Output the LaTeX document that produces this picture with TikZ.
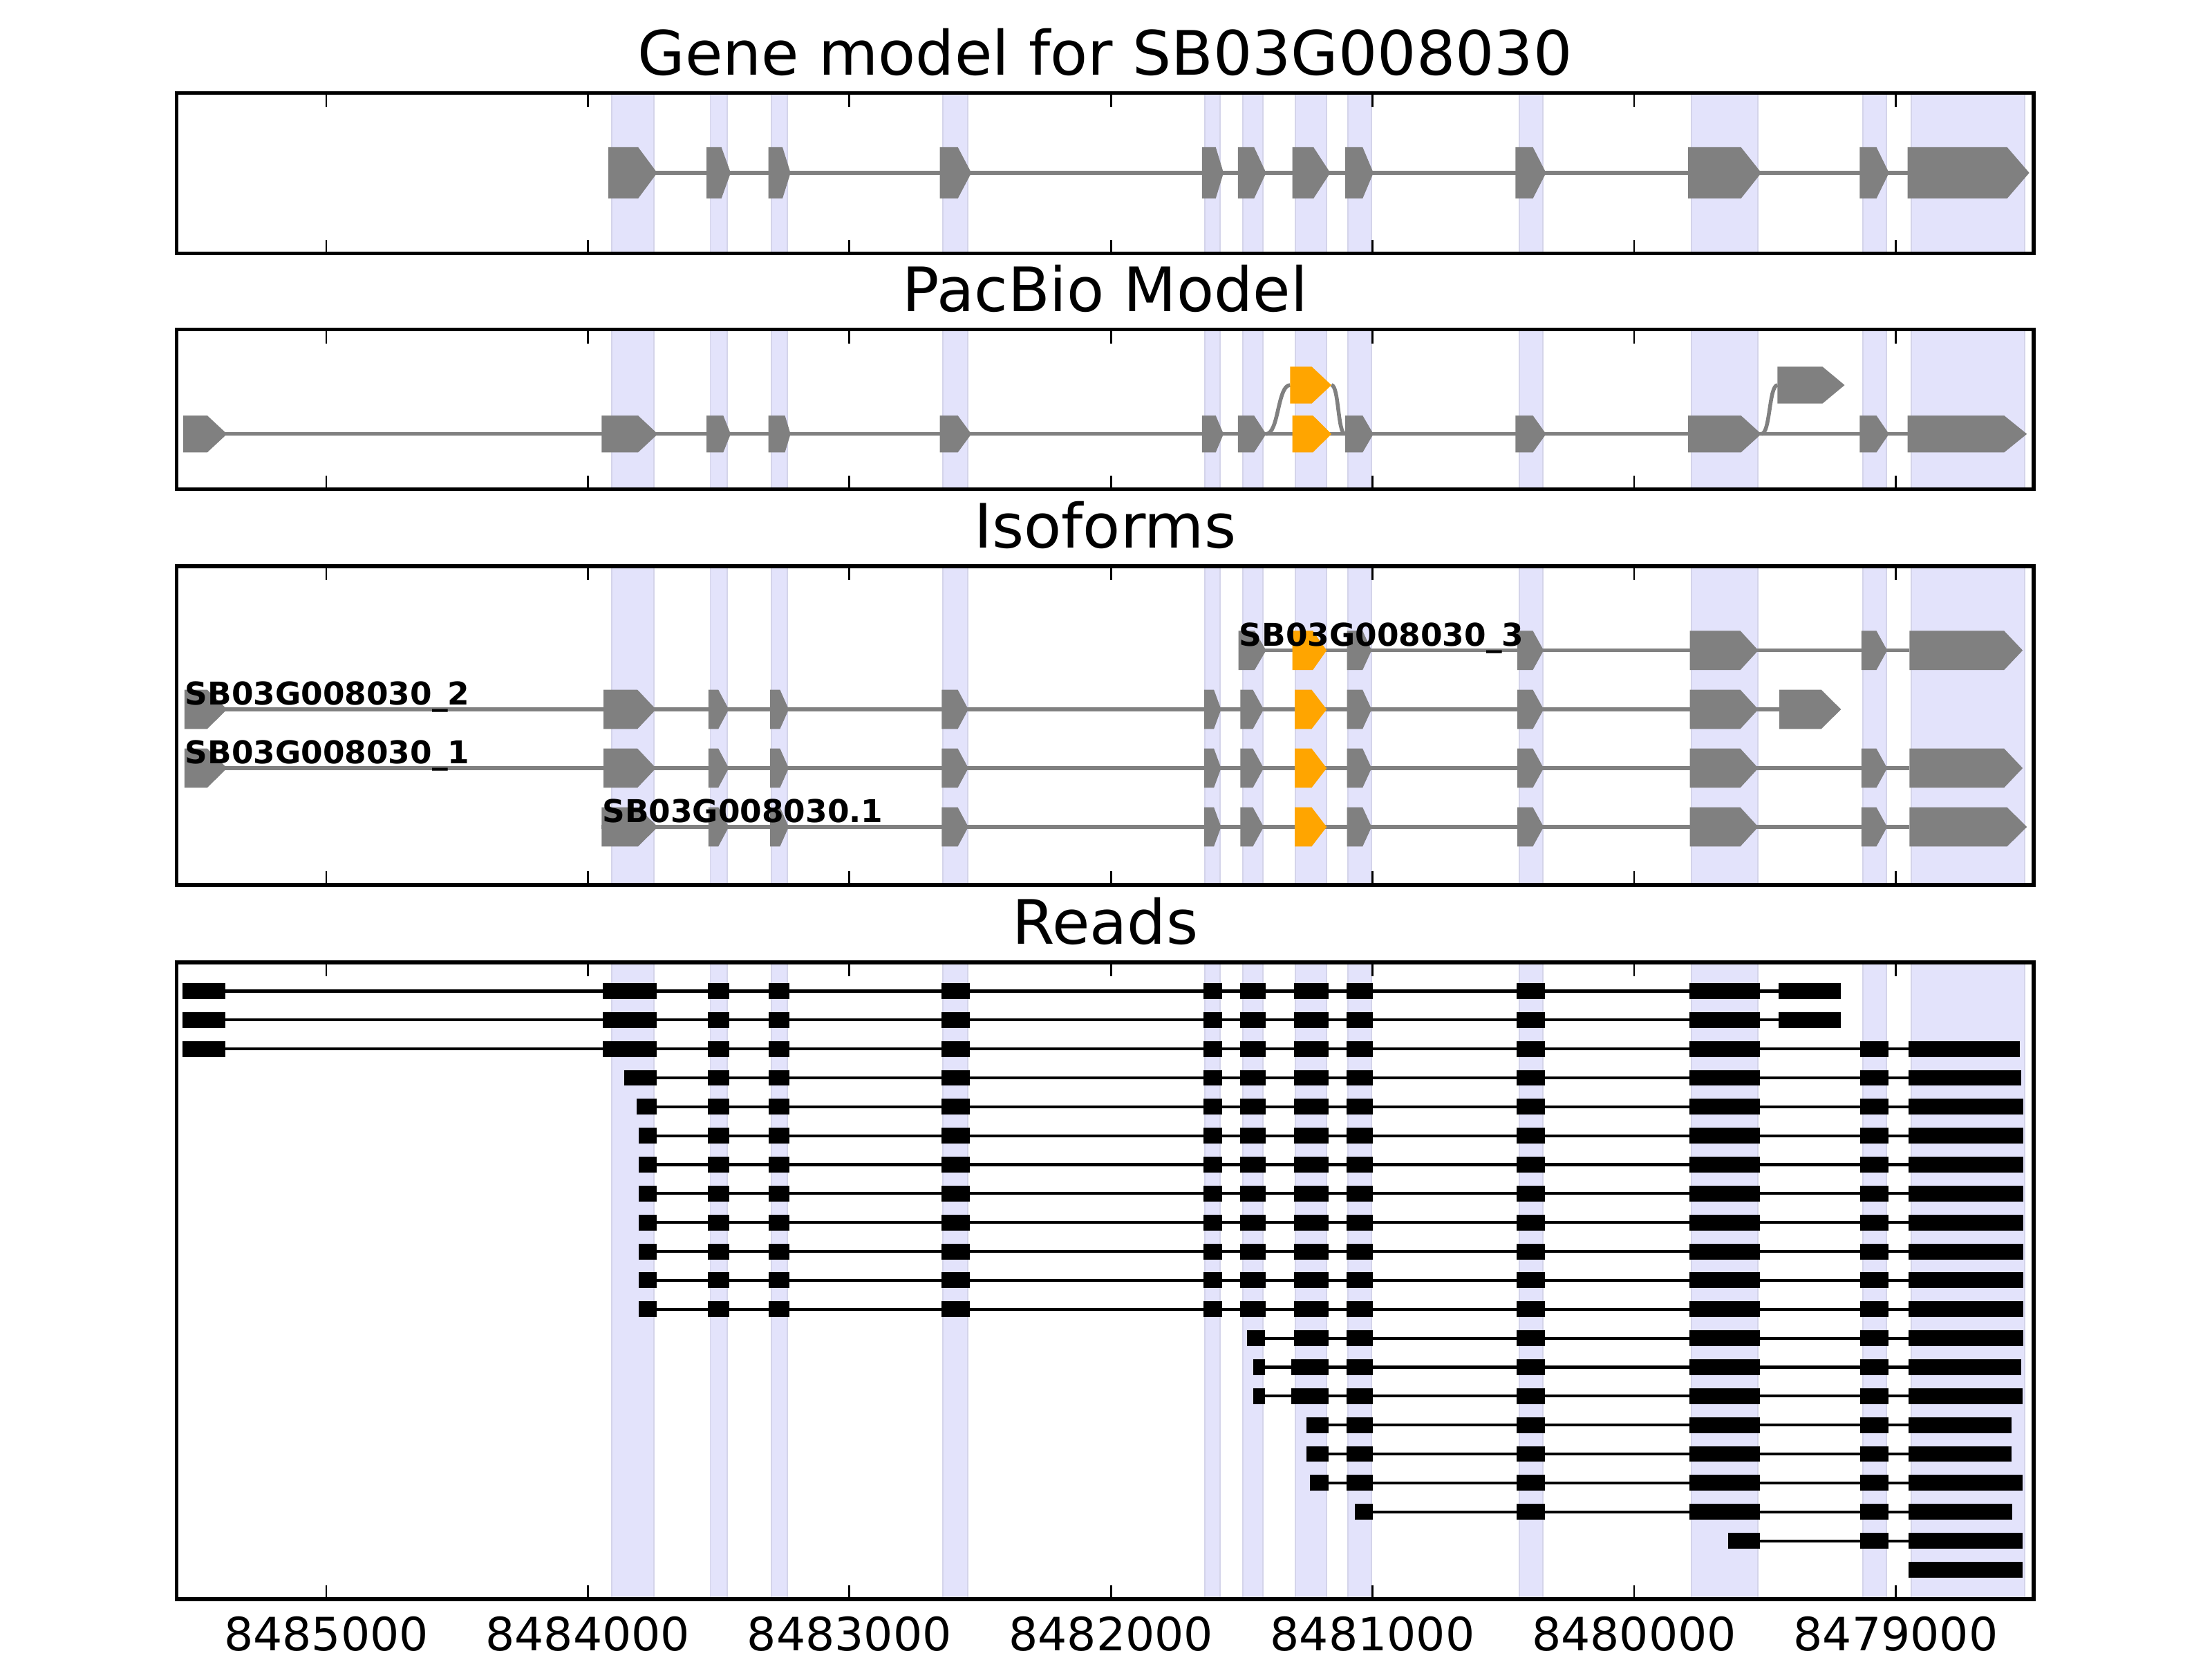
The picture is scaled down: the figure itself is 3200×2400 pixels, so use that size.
\documentclass[tikz,border=0pt]{standalone}
\usepackage{fontspec}
\setmainfont{DejaVu Sans}
\definecolor{exgray}{HTML}{808080}
\definecolor{exorange}{HTML}{FFA500}
\definecolor{bandfill}{RGB}{227,227,251}
\definecolor{bandedge}{RGB}{212,212,234}
% [colour]{y centre}{half height}{x start}{x end of body}{x tip}
\newcommand\gexon[6][exgray]{\fill[#1] (#4,#2-#3) -- (#5,#2-#3) -- (#6,#2) -- (#5,#2+#3) -- (#4,#2+#3) -- cycle;}
% {y}{x start}{x end}{blocks}
\newcommand\readrow[4]{\draw[rline] (#2,#1) -- (#3,#1);\foreach \a/\b in {#4}{\fill[black] (\a,#1-11.45) rectangle (\b,#1+11.45);}}
\newcommand\bandsin[2]{\foreach \a/\b in {884.6/946.3,1027.5/1051.6,1115.9/1139.1,1364.1/1399.9,1743.1/1764.8,1797.7/1827.2,1874.1/1919.2,1950.4/1984.2,2197.6/2232.3,2447.4/2542.8,2694.5/2729.2,2764.8/2928.7}{\filldraw[fill=bandfill,draw=bandedge,line width=0.35pt] (\a,#1) rectangle (\b,#2);}}
\newcommand\axbox[2]{\foreach \t in {472,850.4,1228.8,1607.2,1985.6,2364,2742.4}{\draw[line width=0.5pt] (\t,#1) -- (\t,#1+20) (\t,#2) -- (\t,#2-20);}\draw[line width=1pt] (255.5,#1) rectangle (2942,#2);}
\begin{document}
\begin{tikzpicture}[x=0.180675pt,y=-0.180675pt,
  ttl/.style={font=\fontsize{16}{19}\selectfont, inner sep=0, anchor=base},
  tickl/.style={font=\fontsize{12}{14}\selectfont, inner sep=0, anchor=base},
  lbl/.style={font=\fontsize{8.2}{10}\selectfont\bfseries, inner sep=0, anchor=base west},
  gline/.style={draw=exgray, line width=1pt},
  rline/.style={draw=black, line width=0.75pt}]
\useasboundingbox (0,0) rectangle (3200,2400);
\fill[white] (0,0) rectangle (3200,2400);

% ---------------- Panel 1: gene model ----------------
\node[ttl] (t1) at (1598.7,108.3) {Gene model for SB03G008030};
\bandsin{134.7}{366.5}
\draw[gline] (880.2,250) -- (2759.6,250);
\foreach \p/\q/\r in {880.2/923.1/950.7,1022.1/1043.6/1057,1111.5/1132/1143.6,1359.6/1385.6/1405.2,1738.8/1758.7/1770,1790.8/1814.2/1831.6,1869.7/1900.1/1924.4,1946/1971.2/1986.8,2192.4/2217.5/2236.6,2442.1/2518.5/2548,2690.2/2714.5/2732.7,2759.6/2903.5/2935.6}{\gexon{250}{37.2}{\p}{\q}{\r}}
\axbox{134.7}{366.5}

% ---------------- Panel 2: PacBio model ----------------
\node[ttl] (t2) at (1598.7,450.3) {PacBio Model};
\bandsin{476.7}{707.7}
\draw[gline] (265,627.7) -- (2759.6,627.7);
\draw[gline] (1831.6,627.7) .. controls (1850,627.7) and (1848,557) .. (1866.3,557);
\draw[gline] (1926.1,557) .. controls (1937,557) and (1935,627.7) .. (1946,627.7);
\draw[gline] (2548,627.7) .. controls (2561,627.7) and (2559,557) .. (2571.4,557);
\foreach \p/\q/\r in {265/299.8/328.4,870.4/923/951.6,1022.1/1046.3/1057,1111.5/1135.5/1143.6,1359.6/1385.6/1405.2,1738.8/1758.7/1770,1790.8/1814.2/1831.6,1946/1971.2/1986.8,2192.4/2217.5/2236.6,2442.1/2518.5/2548,2690.2/2714.5/2732.7,2759.6/2899.2/2932.2}{\gexon{627.7}{26.7}{\p}{\q}{\r}}
\gexon[exorange]{627.7}{26.7}{1869.7}{1899.2}{1926.1}
\gexon[exorange]{557}{26.7}{1866.3}{1897.5}{1926.1}
\gexon{557}{26.7}{2571.4}{2636.4}{2668.5}
\axbox{476.7}{707.7}

% ---------------- Panel 3: isoforms ----------------
\node[ttl] (t3) at (1598.7,792.6) {Isoforms};
\bandsin{819}{1280}
% row 1
\draw[gline] (1791.7,940.7) -- (2762.2,940.7);
\foreach \p/\q/\r in {1791.7/1815/1831.6,1948.7/1971.2/1984.2,2195/2217.5/2233.1,2444.7/2517.6/2543.6,2692.8/2714.5/2730.1,2762.2/2899.2/2926.1}{\gexon{940.7}{28.3}{\p}{\q}{\r}}
\gexon[exorange]{940.7}{28.3}{1869.7}{1899.2}{1919.2}
% row 2
\draw[gline] (266.8,1026) -- (2574,1026);
\foreach \p/\q/\r in {266.8/299.8/328.4,873/922.2/949,1024.9/1039.2/1054.3,1114.2/1128.4/1141,1362.4/1385.6/1400.8,1742.2/1756.1/1766.5,1794.3/1812.5/1828.1,1948.7/1971.2/1984.2,2195/2217.5/2233.1,2444.7/2517.6/2543.6,2574/2634.7/2663.3}{\gexon{1026}{28.3}{\p}{\q}{\r}}
\gexon[exorange]{1026}{28.3}{1873.2}{1897.5}{1919.2}
% row 3
\draw[gline] (266.8,1111) -- (2762.2,1111);
\foreach \p/\q/\r in {266.8/299.8/328.4,873/922.2/949,1024.9/1039.2/1054.3,1114.2/1128.4/1141,1362.4/1385.6/1400.8,1742.2/1756.1/1766.5,1794.3/1812.5/1828.1,1948.7/1971.2/1984.2,2195/2217.5/2233.1,2444.7/2517.6/2543.6,2692.8/2714.5/2730.1,2762.2/2899.2/2926.1}{\gexon{1111}{28.3}{\p}{\q}{\r}}
\gexon[exorange]{1111}{28.3}{1873.2}{1897.5}{1919.2}
% row 4
\draw[gline] (870.4,1196) -- (2762.2,1196);
\foreach \p/\q/\r in {870.4/923/951.6,1024.9/1039.2/1054.3,1114.2/1128.4/1141,1362.4/1385.6/1400.8,1742.2/1756.1/1766.5,1794.3/1812.5/1828.1,1948.7/1971.2/1984.2,2195/2217.5/2233.1,2444.7/2517.6/2543.6,2692.8/2714.5/2730.1,2762.2/2903.5/2932.2}{\gexon{1196}{28.3}{\p}{\q}{\r}}
\gexon[exorange]{1196}{28.3}{1873.2}{1897.5}{1919.2}
\node[lbl] (iso3) at (1791.7,934.2) {SB03G008030\_3};
\node[lbl] (iso2) at (266.8,1019.5) {SB03G008030\_2};
\node[lbl] (iso1) at (266.8,1104.5) {SB03G008030\_1};
\node[lbl] (isop) at (870.4,1189.5) {SB03G008030.1};
\axbox{819}{1280}

% ---------------- Panel 4: reads ----------------
\node[ttl] (t4) at (1598.7,1365.6) {Reads};
\bandsin{1392}{2313}
\readrow{1433.4}{264.1}{2663.3}{264.1/325.7,872.2/949.9,1024/1055.2,1112.4/1141.8,1362.4/1402.6,1741.4/1768.3,1794.3/1830.7,1872.3/1921.8,1947.8/1986,2194.1/2234.9,2443.9/2546.2,2573.1/2663.3}
\readrow{1475.25}{264.1}{2663.3}{264.1/325.7,872.2/949.9,1024/1055.2,1112.4/1141.8,1362.4/1402.6,1741.4/1768.3,1794.3/1830.7,1872.3/1921.8,1947.8/1986,2194.1/2234.9,2443.9/2546.2,2573.1/2663.3}
\readrow{1517.1}{264.1}{2921.7}{264.1/325.7,872.2/949.9,1024/1055.2,1112.4/1141.8,1362.4/1402.6,1741.4/1768.3,1794.3/1830.7,1872.3/1921.8,1947.8/1986,2194.1/2234.9,2443.9/2546.2,2691/2731.8,2761.3/2921.7}
\readrow{1558.95}{903.4}{2924.3}{903.4/949.9,1024/1055.2,1112.4/1141.8,1362.4/1402.6,1741.4/1768.3,1794.3/1830.7,1872.3/1921.8,1947.8/1986,2194.1/2234.9,2443.9/2546.2,2691/2731.8,2761.3/2924.3}
\readrow{1600.8}{921.3}{2927}{921.3/949.9,1024/1055.2,1112.4/1141.8,1362.4/1402.6,1741.4/1768.3,1794.3/1830.7,1872.3/1921.8,1947.8/1986,2194.1/2234.9,2443.9/2546.2,2691/2731.8,2761.3/2927}
\foreach \yy in {1642.65,1684.5,1726.35,1768.2,1810.05,1851.9,1893.75}{%
\readrow{\yy}{924}{2927}{924/949.9,1024/1055.2,1112.4/1141.8,1362.4/1402.6,1741.4/1768.3,1794.3/1830.7,1872.3/1921.8,1947.8/1986,2194.1/2234.9,2443.9/2546.2,2691/2731.8,2761.3/2927}}
\readrow{1935.6}{1803.8}{2927}{1803.8/1829.8,1872.3/1921.8,1947.8/1986,2194.1/2234.9,2443.9/2546.2,2691/2731.8,2761.3/2927}
\readrow{1977.45}{1813.4}{2924}{1813.4/1829.8,1868/1921.8,1947.8/1986,2194.1/2234.9,2443.9/2546.2,2691/2731.8,2761.3/2924}
\readrow{2019.3}{1813.4}{2926}{1813.4/1829.8,1868/1921.8,1947.8/1986,2194.1/2234.9,2443.9/2546.2,2691/2731.8,2761.3/2926}
\readrow{2061.15}{1889.7}{2909.6}{1889.7/1921.8,1947.8/1986,2194.1/2234.9,2443.9/2546.2,2691/2731.8,2761.3/2909.6}
\readrow{2103}{1889.7}{2909.6}{1889.7/1921.8,1947.8/1986,2194.1/2234.9,2443.9/2546.2,2691/2731.8,2761.3/2909.6}
\readrow{2144.85}{1894.9}{2926}{1894.9/1921.8,1947.8/1986,2194.1/2234.9,2443.9/2546.2,2691/2731.8,2761.3/2926}
\readrow{2186.7}{1960}{2911}{1960/1986,2194.1/2234.9,2443.9/2546.2,2691/2731.8,2761.3/2911}
\readrow{2228.55}{2500.3}{2926}{2500.3/2546.2,2691/2731.8,2761.3/2926}
\fill[black] (2761.3,2270.4-11.45) rectangle (2926,2270.4+11.45);
\axbox{1392}{2313}

% ---------------- x tick labels ----------------
\foreach \t/\l [count=\i] in {472/8485000,850.4/8484000,1228.8/8483000,1607.2/8482000,1985.6/8481000,2364/8480000,2742.4/8479000}{\node[tickl] (tl\i) at (\t,2387.3) {\l};}
\end{tikzpicture}
\end{document}
